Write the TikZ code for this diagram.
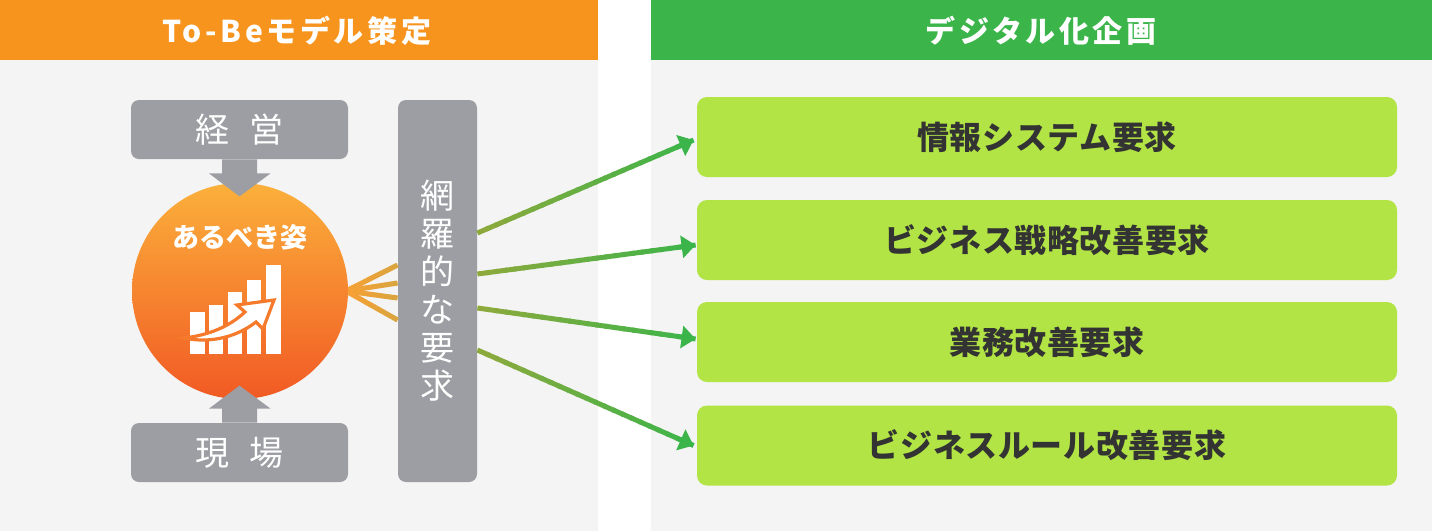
\documentclass[tikz,border=0pt]{standalone}
\usepackage{fontspec}
\setmainfont{Noto Sans CJK JP}
\usetikzlibrary{arrows.meta,calc}
\definecolor{hdorange}{HTML}{F7941D}
\definecolor{hdgreen}{HTML}{3BB54A}
\definecolor{panelbg}{HTML}{F4F4F4}
\definecolor{boxgray}{HTML}{9D9EA3}
\definecolor{boxgreen}{HTML}{B1E444}
\definecolor{txtdark}{HTML}{333333}
\definecolor{circtop}{HTML}{FBB03B}
\definecolor{circbot}{HTML}{F15A24}
\definecolor{iconline}{HTML}{F57A2C}
\definecolor{lnorangeA}{HTML}{F9A035}
\definecolor{lnorangeB}{HTML}{D9A53E}
\definecolor{lngreenA}{HTML}{8FA93C}
\definecolor{lngreenB}{HTML}{3BB54A}
\newcommand\gradseg[4]{%
  \foreach \i in {1,...,24}{%
    \pgfmathtruncatemacro\pc{100-(\i-0.5)*100/24}%
    \colorlet{segc}{#3!\pc!#4}%
    \pgfmathsetmacro\ta{(\i-1)/24}%
    \pgfmathsetmacro\tb{min(\i/24+0.012,1)}%
    \draw[segc,line width=2.5pt] ($(#1)!\ta!(#2)$) -- ($(#1)!\tb!(#2)$);
  }}
\begin{document}
\begin{tikzpicture}[x=0.5pt,y=-0.5pt,
  hdtext/.style={text=white,font=\fontsize{15pt}{18pt}\bfseries\addfontfeature{LetterSpace=12}\selectfont},
  graybox/.style={fill=boxgray,rounded corners=4pt,minimum width=108.5pt,minimum height=29.5pt,inner sep=0pt,
    text=white,font=\fontsize{17pt}{20pt}\selectfont},
  greenbox/.style={fill=boxgreen,rounded corners=5pt,minimum width=350pt,minimum height=40pt,inner sep=0pt,
    text=txtdark,font=\fontsize{16pt}{19pt}\bfseries\addfontfeature{LetterSpace=2}\selectfont},
  tip/.style={-{Triangle[length=7pt,width=11pt]}}]
\useasboundingbox (0,0) rectangle (1432,531);
% panels
\fill[white] (0,0) rectangle (1432,531);
\fill[panelbg] (0,60) rectangle (598,531);
\fill[panelbg] (651,60) rectangle (1432,531);
\fill[hdorange] (0,0) rectangle (598,60);
\fill[hdgreen] (651,0) rectangle (1432,60);
\node[hdtext] (hleft) at (297,31) {To-Beモデル策定};
\node[hdtext] (hright) at (1041,31) {デジタル化企画};
% left side
\node[graybox] (keiei) at (239.5,129.5) {経\hspace{10pt}営};
\node[graybox] (genba) at (239.5,452.5) {現\hspace{10pt}場};
\node[fill=boxgray,rounded corners=4pt,minimum width=39.5pt,minimum height=191pt,inner sep=0pt,
  text=white,align=center,font=\fontsize{17pt}{19pt}\selectfont] (req) at (437.5,291)
  {網\\羅\\的\\な\\要\\求};
% orange lines
\coordinate (o1) at ($(req.west)+(0,-26)$);
\coordinate (o2) at ($(req.west)+(0,-8)$);
\coordinate (o3) at ($(req.west)+(0,7)$);
\coordinate (o4) at ($(req.west)+(0,29)$);
\coordinate (oc) at (346,291);
\gradseg{oc}{o1}{lnorangeA}{lnorangeB}
\gradseg{oc}{o2}{lnorangeA}{lnorangeB}
\gradseg{oc}{o3}{lnorangeA}{lnorangeB}
\gradseg{oc}{o4}{lnorangeA}{lnorangeB}
% circle
\node[circle,minimum size=108pt,inner sep=0pt,top color=circtop,bottom color=circbot] (goal) at (240,291) {};
\node[text=white,font=\fontsize{13.5pt}{16pt}\bfseries\selectfont] (goaltext) at (240,237) {あるべき姿};
% icon bars
\fill[white] (190,312) rectangle (205,354);
\fill[white] (209,305) rectangle (223,354);
\fill[white] (228,292) rectangle (242,354);
\fill[white] (247,280) rectangle (261,354);
\fill[white] (266,265) rectangle (281,354);
% swoosh
\filldraw[fill=white,draw=iconline,line width=1.6pt,line join=miter]
  (184,338) .. controls (212,344) and (238,336) .. (256,322)
  -- (263,329) -- (274,300) -- (237,305) -- (245,312)
  .. controls (230,326) and (210,335) .. (184,338) -- cycle;
% gray arrows
\fill[boxgray] ($(keiei.south)+(-17.5,0)$) -- ++(0,14) -- ++(-13,0) -- ($(keiei.south)+(0,37)$)
  -- ($(keiei.south)+(31,14)$) -- ++(-13.5,0) -- ++(0,-14) -- cycle;
\fill[boxgray] ($(genba.north)+(-17.5,0)$) -- ++(0,-14) -- ++(-13,0) -- ($(genba.north)+(0,-37)$)
  -- ($(genba.north)+(31,-14)$) -- ++(-13.5,0) -- ++(0,14) -- cycle;
% right side boxes
\node[greenbox] (b1) at (1047,137) {情報システム要求};
\node[greenbox] (b2) at (1047,240) {ビジネス戦略改善要求};
\node[greenbox] (b3) at (1047,342) {業務改善要求};
\node[greenbox] (b4) at (1047,445.5) {ビジネスルール改善要求};
% green arrows
\coordinate (s1) at ($(req.east)+(0,-58)$);
\coordinate (s2) at ($(req.east)+(0,-17)$);
\coordinate (s3) at ($(req.east)+(0,17)$);
\coordinate (s4) at ($(req.east)+(0,59)$);
\coordinate (t1) at ($(b1.west)+(-3,3)$);
\coordinate (t2) at ($(b2.west)+(-1,5)$);
\coordinate (t3) at ($(b3.west)+(-1,-3)$);
\coordinate (t4) at ($(b4.west)+(-3,0)$);
\foreach \k in {1,2,3,4}{
  \gradseg{s\k}{t\k}{lngreenA}{lngreenB}
  \draw[tip,lngreenB,line width=2.5pt] ($(s\k)!0.93!(t\k)$) -- (t\k);
}
\end{tikzpicture}
\end{document}
